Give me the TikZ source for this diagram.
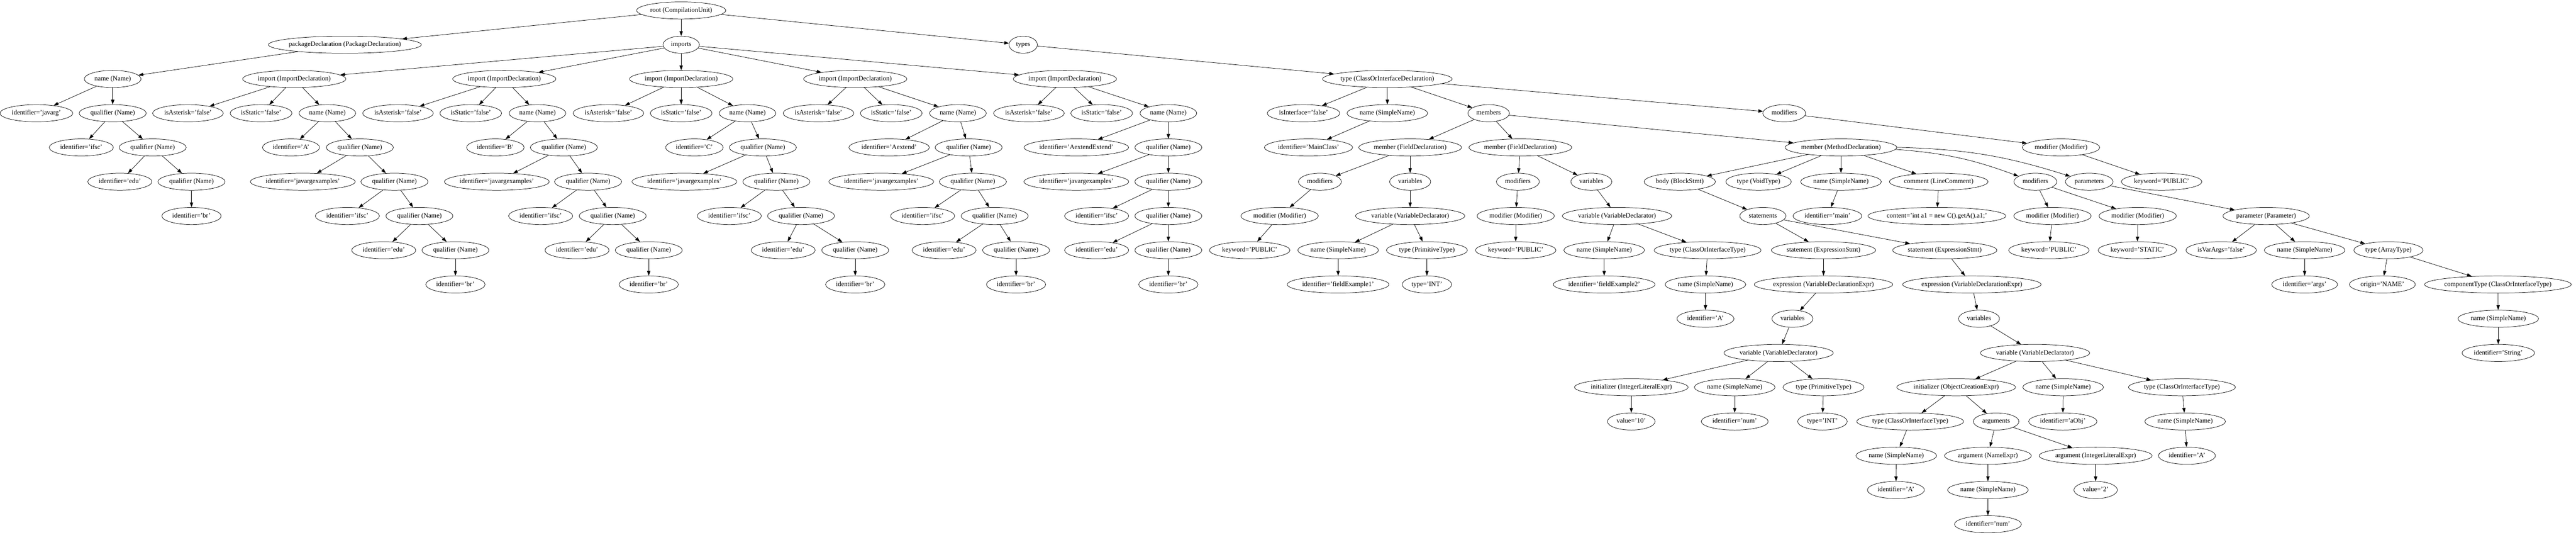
\documentclass[tikz,border=0pt]{standalone}
\usepackage{fontspec}
\setmainfont{Liberation Serif}
\usepackage{tikz}
\usetikzlibrary{
    arrows.meta,
    shapes.geometric
}

\begin{document}
\begin{tikzpicture}[x=0.75pt, y=-72pt, line width=0.8pt,
        >={Triangle[length=10pt,width=7pt]},
        astnode/.style={draw, ellipse, minimum height=36pt, minimum width=54pt,
            inner xsep=7.8pt, inner ysep=0pt, text height=10pt, text depth=3pt,
            font=\fontsize{14}{16}\selectfont,
            execute at begin node={\setbox0\hbox\bgroup},
            execute at end node={\egroup\hbox to 0.898\wd0{\hss\box0\hss}}},
        every node/.append style={astnode}]
    \useasboundingbox (0,-0.3056) rectangle (7223,15.309);

    \node (root) at (1910, 0) {root (CompilationUnit)};
    \node (pkg) at (967, 1) {packageDeclaration (PackageDeclaration)};
    \node (imps) at (1910, 1) {imports};
    \node (types) at (2869, 1) {types};

    \node (pn) at (316, 2) {name (Name)};
    \node (pni) at (102, 3) {identifier='javarg'};
    \node (pq1) at (316, 3) {qualifier (Name)};
    \node (pq1i) at (228, 4) {identifier='ifsc'};
    \node (pq2) at (428, 4) {qualifier (Name)};
    \node (pq2i) at (336, 5) {identifier='edu'};
    \node (pq3) at (537, 5) {qualifier (Name)};
    \node (pq3i) at (537, 6) {identifier='br'};

    \node (i1) at (825, 2) {import (ImportDeclaration)};
    \node (i1a) at (527, 3) {isAsterisk='false'};
    \node (i1s) at (732, 3) {isStatic='false'};
    \node (i1n) at (918, 3) {name (Name)};
    \node (i1ni) at (816, 4) {identifier='A'};
    \node (i1q1) at (1009, 4) {qualifier (Name)};
    \node (i1q1i) at (849, 5) {identifier='javargexamples'};
    \node (i1q2) at (1106, 5) {qualifier (Name)};
    \node (i1q2i) at (974, 6) {identifier='ifsc'};
    \node (i1q3) at (1176, 6) {qualifier (Name)};
    \node (i1q3i) at (1076, 7) {identifier='edu'};
    \node (i1q4) at (1277, 7) {qualifier (Name)};
    \node (i1q4i) at (1277, 8) {identifier='br'};

    \node (i2) at (1414, 2) {import (ImportDeclaration)};
    \node (i2a) at (1116, 3) {isAsterisk='false'};
    \node (i2s) at (1320, 3) {isStatic='false'};
    \node (i2n) at (1507, 3) {name (Name)};
    \node (i2ni) at (1389, 4) {identifier='B'};
    \node (i2q1) at (1581, 4) {qualifier (Name)};
    \node (i2q1i) at (1393, 5) {identifier='javargexamples'};
    \node (i2q2) at (1649, 5) {qualifier (Name)};
    \node (i2q2i) at (1516, 6) {identifier='ifsc'};
    \node (i2q3) at (1718, 6) {qualifier (Name)};
    \node (i2q3i) at (1618, 7) {identifier='edu'};
    \node (i2q4) at (1819, 7) {qualifier (Name)};
    \node (i2q4i) at (1819, 8) {identifier='br'};

    \node (i3) at (1910, 2) {import (ImportDeclaration)};
    \node (i3a) at (1706, 3) {isAsterisk='false'};
    \node (i3s) at (1910, 3) {isStatic='false'};
    \node (i3n) at (2096, 3) {name (Name)};
    \node (i3ni) at (1947, 4) {identifier='C'};
    \node (i3q1) at (2139, 4) {qualifier (Name)};
    \node (i3q1i) at (1919, 5) {identifier='javargexamples'};
    \node (i3q2) at (2177, 5) {qualifier (Name)};
    \node (i3q2i) at (2045, 6) {identifier='ifsc'};
    \node (i3q3) at (2246, 6) {qualifier (Name)};
    \node (i3q3i) at (2196, 7) {identifier='edu'};
    \node (i3q4) at (2398, 7) {qualifier (Name)};
    \node (i3q4i) at (2398, 8) {identifier='br'};

    \node (i4) at (2398, 2) {import (ImportDeclaration)};
    \node (i4a) at (2295, 3) {isAsterisk='false'};
    \node (i4s) at (2499, 3) {isStatic='false'};
    \node (i4n) at (2686, 3) {name (Name)};
    \node (i4ni) at (2493, 4) {identifier='Aextend'};
    \node (i4q1) at (2716, 4) {qualifier (Name)};
    \node (i4q1i) at (2471, 5) {identifier='javargexamples'};
    \node (i4q2) at (2728, 5) {qualifier (Name)};
    \node (i4q2i) at (2587, 6) {identifier='ifsc'};
    \node (i4q3) at (2789, 6) {qualifier (Name)};
    \node (i4q3i) at (2647, 7) {identifier='edu'};
    \node (i4q4) at (2849, 7) {qualifier (Name)};
    \node (i4q4i) at (2849, 8) {identifier='br'};

    \node (i5) at (2986, 2) {import (ImportDeclaration)};
    \node (i5a) at (2885, 3) {isAsterisk='false'};
    \node (i5s) at (3089, 3) {isStatic='false'};
    \node (i5n) at (3276, 3) {name (Name)};
    \node (i5ni) at (3018, 4) {identifier='AextendExtend'};
    \node (i5q1) at (3276, 4) {qualifier (Name)};
    \node (i5q1i) at (3018, 5) {identifier='javargexamples'};
    \node (i5q2) at (3276, 5) {qualifier (Name)};
    \node (i5q2i) at (3075, 6) {identifier='ifsc'};
    \node (i5q3) at (3276, 6) {qualifier (Name)};
    \node (i5q3i) at (3075, 7) {identifier='edu'};
    \node (i5q4) at (3276, 7) {qualifier (Name)};
    \node (i5q4i) at (3276, 8) {identifier='br'};

    \node (cls) at (3890, 2) {type (ClassOrInterfaceDeclaration)};
    \node (cisi) at (3655, 3) {isInterface='false'};
    \node (cname) at (3890, 3) {name (SimpleName)};
    \node (cnamei) at (3669, 4) {identifier='MainClass'};
    \node (mems) at (4174, 3) {members};
    \node (cmods) at (5003, 3) {modifiers};
    \node (cmod) at (5779, 4) {modifier (Modifier)};
    \node (cmodk) at (6061, 5) {keyword='PUBLIC'};

    \node (f1) at (3954, 4) {member (FieldDeclaration)};
    \node (f1m) at (3701, 5) {modifiers};
    \node (f1mm) at (3588, 6) {modifier (Modifier)};
    \node (f1mmk) at (3504, 7) {keyword='PUBLIC'};
    \node (f1v) at (3954, 5) {variables};
    \node (f1vv) at (3954, 6) {variable (VariableDeclarator)};
    \node (f1vn) at (3752, 7) {name (SimpleName)};
    \node (f1vni) at (3752, 8) {identifier='fieldExample1'};
    \node (f1vt) at (4001, 7) {type (PrimitiveType)};
    \node (f1vtt) at (4001, 8) {type='INT'};

    \node (f2) at (4263, 4) {member (FieldDeclaration)};
    \node (f2m) at (4256, 5) {modifiers};
    \node (f2mm) at (4250, 6) {modifier (Modifier)};
    \node (f2mmk) at (4250, 7) {keyword='PUBLIC'};
    \node (f2v) at (4462, 5) {variables};
    \node (f2vv) at (4534, 6) {variable (VariableDeclarator)};
    \node (f2vn) at (4498, 7) {name (SimpleName)};
    \node (f2vni) at (4498, 8) {identifier='fieldExample2'};
    \node (f2vt) at (4788, 7) {type (ClassOrInterfaceType)};
    \node (f2vtn) at (4782, 8) {name (SimpleName)};
    \node (f2vtni) at (4782, 9) {identifier='A'};

    \node (m) at (5162, 4) {member (MethodDeclaration)};
    \node (mb) at (4710, 5) {body (BlockStmt)};
    \node (mt) at (4931, 5) {type (VoidType)};
    \node (mn) at (5162, 5) {name (SimpleName)};
    \node (mni) at (5124, 6) {identifier='main'};
    \node (mc) at (5436, 5) {comment (LineComment)};
    \node (mcc) at (5431, 6) {content='int a1 = new C().getA().a1;'};
    \node (mm) at (5707, 5) {modifiers};
    \node (mm1) at (5755, 6) {modifier (Modifier)};
    \node (mm1k) at (5745, 7) {keyword='PUBLIC'};
    \node (mm2) at (5994, 6) {modifier (Modifier)};
    \node (mm2k) at (5993, 7) {keyword='STATIC'};
    \node (mp) at (5858, 5) {parameters};
    \node (mpp) at (6354, 6) {parameter (Parameter)};
    \node (mppv) at (6228, 7) {isVarArgs='false'};
    \node (mppn) at (6462, 7) {name (SimpleName)};
    \node (mppni) at (6462, 8) {identifier='args'};
    \node (mppt) at (6697, 7) {type (ArrayType)};
    \node (mppto) at (6680, 8) {origin='NAME'};
    \node (mpptc) at (7004, 8) {componentType (ClassOrInterfaceType)};
    \node (mpptcn) at (7005, 9) {name (SimpleName)};
    \node (mpptcni) at (7005, 10) {identifier='String'};

    \node (mbs) at (4943, 6) {statements};
    \node (s1) at (5113, 7) {statement (ExpressionStmt)};
    \node (s1e) at (5113, 8) {expression (VariableDeclarationExpr)};
    \node (s1ev) at (5026, 9) {variables};
    \node (s1evv) at (4987, 10) {variable (VariableDeclarator)};
    \node (s1ini) at (4574, 11) {initializer (IntegerLiteralExpr)};
    \node (s1iniv) at (4574, 12) {value='10'};
    \node (s1n) at (4864, 11) {name (SimpleName)};
    \node (s1ni) at (4864, 12) {identifier='num'};
    \node (s1t) at (5113, 11) {type (PrimitiveType)};
    \node (s1tt) at (5110, 12) {type='INT'};

    \node (s2) at (5453, 7) {statement (ExpressionStmt)};
    \node (s2e) at (5529, 8) {expression (VariableDeclarationExpr)};
    \node (s2ev) at (5549, 9) {variables};
    \node (s2evv) at (5706, 10) {variable (VariableDeclarator)};
    \node (s2ini) at (5485, 11) {initializer (ObjectCreationExpr)};
    \node (s2init) at (5356, 12) {type (ClassOrInterfaceType)};
    \node (s2initn) at (5317, 13) {name (SimpleName)};
    \node (s2initni) at (5316, 14) {identifier='A'};
    \node (s2inia) at (5597, 12) {arguments};
    \node (s2inia1) at (5574, 13) {argument (NameExpr)};
    \node (s2inia1n) at (5574, 14) {name (SimpleName)};
    \node (s2inia1ni) at (5574, 15) {identifier='num'};
    \node (s2inia2) at (5876, 13) {argument (IntegerLiteralExpr)};
    \node (s2inia2v) at (5876, 14) {value='2'};
    \node (s2n) at (5785, 11) {name (SimpleName)};
    \node (s2ni) at (5784, 12) {identifier='aObj'};
    \node (s2t) at (6118, 11) {type (ClassOrInterfaceType)};
    \node (s2tn) at (6127, 12) {name (SimpleName)};
    \node (s2tni) at (6132, 13) {identifier='A'};

    \draw[->]
    (root) edge (pkg) edge (imps) edge (types)
    (pkg) edge (pn)
    (pn) edge (pni) edge (pq1)
    (pq1) edge (pq1i) edge (pq2)
    (pq2) edge (pq2i) edge (pq3)
    (pq3) edge (pq3i)
    (imps) edge (i1) edge (i2) edge (i3) edge (i4) edge (i5);

    \draw[->]
    (i1) edge (i1a) edge (i1s) edge (i1n)
    (i1n) edge (i1ni) edge (i1q1)
    (i1q1) edge (i1q1i) edge (i1q2)
    (i1q2) edge (i1q2i) edge (i1q3)
    (i1q3) edge (i1q3i) edge (i1q4)
    (i1q4) edge (i1q4i)
    (i2) edge (i2a) edge (i2s) edge (i2n)
    (i2n) edge (i2ni) edge (i2q1)
    (i2q1) edge (i2q1i) edge (i2q2)
    (i2q2) edge (i2q2i) edge (i2q3)
    (i2q3) edge (i2q3i) edge (i2q4)
    (i2q4) edge (i2q4i)
    (i3) edge (i3a) edge (i3s) edge (i3n)
    (i3n) edge (i3ni) edge (i3q1)
    (i3q1) edge (i3q1i) edge (i3q2)
    (i3q2) edge (i3q2i) edge (i3q3)
    (i3q3) edge (i3q3i) edge (i3q4)
    (i3q4) edge (i3q4i)
    (i4) edge (i4a) edge (i4s) edge (i4n)
    (i4n) edge (i4ni) edge (i4q1)
    (i4q1) edge (i4q1i) edge (i4q2)
    (i4q2) edge (i4q2i) edge (i4q3)
    (i4q3) edge (i4q3i) edge (i4q4)
    (i4q4) edge (i4q4i)
    (i5) edge (i5a) edge (i5s) edge (i5n)
    (i5n) edge (i5ni) edge (i5q1)
    (i5q1) edge (i5q1i) edge (i5q2)
    (i5q2) edge (i5q2i) edge (i5q3)
    (i5q3) edge (i5q3i) edge (i5q4)
    (i5q4) edge (i5q4i);

    \draw[->]
    (types) edge (cls)
    (cls) edge (cisi) edge (cname) edge (mems) edge (cmods)
    (cname) edge (cnamei)
    (cmods) edge (cmod)
    (cmod) edge (cmodk)
    (mems) edge (f1) edge (f2) edge (m)
    (f1) edge (f1m) edge (f1v)
    (f1m) edge (f1mm)
    (f1mm) edge (f1mmk)
    (f1v) edge (f1vv)
    (f1vv) edge (f1vn) edge (f1vt)
    (f1vn) edge (f1vni)
    (f1vt) edge (f1vtt)
    (f2) edge (f2m) edge (f2v)
    (f2m) edge (f2mm)
    (f2mm) edge (f2mmk)
    (f2v) edge (f2vv)
    (f2vv) edge (f2vn) edge (f2vt)
    (f2vn) edge (f2vni)
    (f2vt) edge (f2vtn)
    (f2vtn) edge (f2vtni);

    \draw[->]
    (m) edge (mb) edge (mt) edge (mn) edge (mc)
        edge[bend left=8] (mm) edge[bend left=8] (mp)
    (mn) edge (mni)
    (mc) edge (mcc)
    (mm) edge (mm1) edge (mm2)
    (mm1) edge (mm1k)
    (mm2) edge (mm2k)
    (mp) edge (mpp)
    (mpp) edge (mppv) edge (mppn) edge (mppt)
    (mppn) edge (mppni)
    (mppt) edge (mppto) edge (mpptc)
    (mpptc) edge (mpptcn)
    (mpptcn) edge (mpptcni)
    (mb) edge (mbs)
    (mbs) edge (s1) edge (s2)
    (s1) edge (s1e)
    (s1e) edge (s1ev)
    (s1ev) edge (s1evv)
    (s1evv) edge (s1ini) edge (s1n) edge (s1t)
    (s1ini) edge (s1iniv)
    (s1n) edge (s1ni)
    (s1t) edge (s1tt)
    (s2) edge (s2e)
    (s2e) edge (s2ev)
    (s2ev) edge (s2evv)
    (s2evv) edge (s2ini) edge (s2n) edge (s2t)
    (s2ini) edge (s2init) edge (s2inia)
    (s2init) edge (s2initn)
    (s2initn) edge (s2initni)
    (s2inia) edge (s2inia1) edge (s2inia2)
    (s2inia1) edge (s2inia1n)
    (s2inia1n) edge (s2inia1ni)
    (s2inia2) edge (s2inia2v)
    (s2n) edge (s2ni)
    (s2t) edge (s2tn)
    (s2tn) edge (s2tni);
\end{tikzpicture}
\end{document}
